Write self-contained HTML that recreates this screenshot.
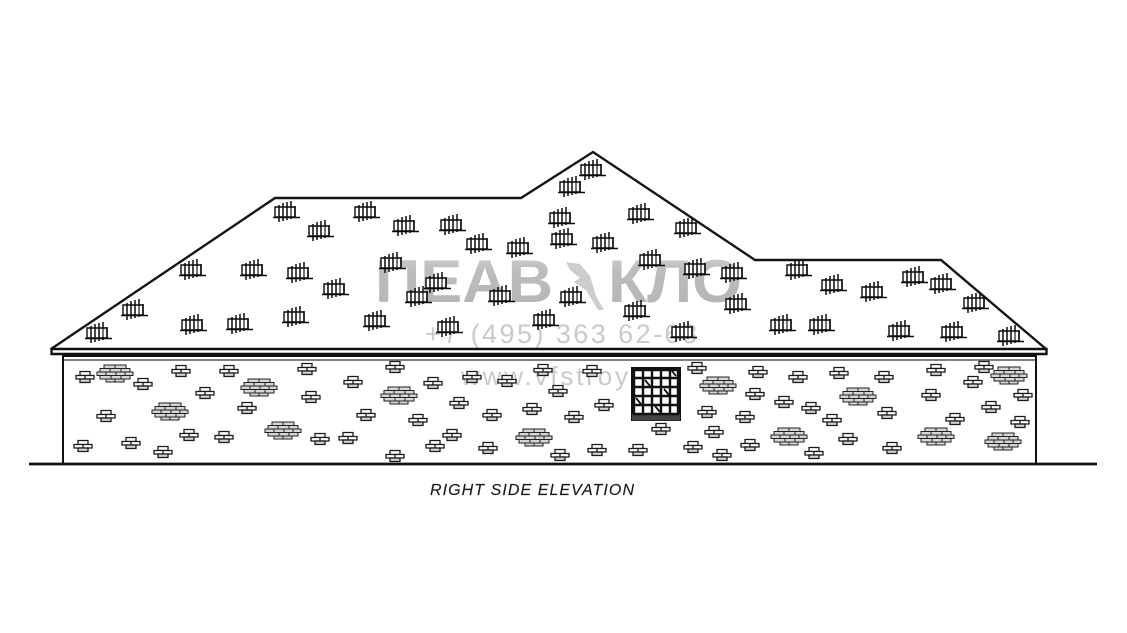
<!DOCTYPE html>
<html><head><meta charset="utf-8"><style>
html,body{margin:0;padding:0;background:#fff;width:1127px;height:633px;overflow:hidden}
svg{display:block;filter:blur(.3px)}
</style></head><body>
<svg xmlns="http://www.w3.org/2000/svg" width="1127" height="633" viewBox="0 0 1127 633">
<defs>
<linearGradient id="wm" x1="0" y1="0" x2="0" y2="1"><stop offset="0" stop-color="#d4d4d4"/><stop offset=".35" stop-color="#bcbcbc"/><stop offset="1" stop-color="#b4b4b4"/></linearGradient>
<g id="s" fill="none" stroke="#0c0c0c" stroke-width="1.400">
<path d="M-11-5H9V5H-11Z" fill="#fff"/>
<path d="M-7-7V7M-3-9V9M1-7V8M5-11V7M9-6V6M-7 5V10M1-10V-5" stroke-width="1.500"/>
<path d="M-13 5.500H14" stroke-width="1.600"/>
<path d="M5-4V4" stroke="#777" stroke-width="2"/>
</g>
<g id="b" stroke="#1a1a1a" stroke-width="1.300" fill="#fff">
<path d="M-5-5.500H5V-1.500H-5Z"/>
<path d="M-9-1.500H9V2H-9Z"/>
<path d="M-5 2H5V5.500H-5Z" fill="#d2d2d2"/>
<path d="M0-1.500V2" fill="none"/>
</g>
<g id="c" stroke="#222" stroke-width="1" fill="#d6d6d6">
<path d="M-11-8H11V-4.500H-11Z"/>
<path d="M-15-4.500H15V-1H-15Z"/>
<path d="M-18-1H18V2.500H-18Z"/>
<path d="M-15 2.500H15V6H-15Z"/>
<path d="M-9 6H9V9H-9Z"/>
<path d="M0-8V-4.500M-5-4.500V-1M6-4.500V-1M-9-1V2.500M1-1V2.500M10-1V2.500M-4 2.500V6M6 2.500V6M0 6V9" fill="none"/>
</g>
</defs>
<rect width="1127" height="633" fill="#fff"/>

<!-- watermark -->
<g fill="url(#wm)" font-family="'Liberation Sans','DejaVu Sans',sans-serif" font-weight="bold">
<text x="375" y="302" font-size="60" textLength="178" lengthAdjust="spacingAndGlyphs">ПЕАВ</text>
<text x="608" y="302" font-size="60" textLength="134" lengthAdjust="spacingAndGlyphs">КЛО</text>
<path d="M566 262l14 2 10 12 6 20 8 14-6 0-12-20-12-8 6-4-10-8z" fill="#cdcdcd"/>
</g>
<g fill="#cacaca" font-family="'Liberation Sans',sans-serif">
<text x="425" y="343" font-size="27" textLength="272" lengthAdjust="spacing">+7 (495) 363 62-68</text>
<text x="461" y="385" font-size="26" textLength="204" lengthAdjust="spacing">www.vfstroy.ru</text>
</g>

<!-- roof -->
<path d="M51 349L275 198H521L593 152L755 260H941L1046 349" fill="none" stroke="#151515" stroke-width="2.400"/>
<path d="M51.500 349H1046.500V354H51.500Z" fill="#fff" stroke="#111" stroke-width="2.400"/>
<path d="M62 355.500H1037" stroke="#111" stroke-width="3"/>
<path d="M62 360H1037" stroke="#555" stroke-width="1.500"/>
<path d="M63 356V464M1036 356V464" stroke="#111" stroke-width="2"/>
<path d="M29 464H1097" stroke="#111" stroke-width="2.800"/>

<!-- shingles -->
<g>
<use href="#s" x="98" y="333"/><use href="#s" x="134" y="310"/><use href="#s" x="192" y="270"/><use href="#s" x="193" y="325"/>
<use href="#s" x="253" y="270"/><use href="#s" x="239" y="324"/><use href="#s" x="299" y="273"/><use href="#s" x="295" y="317"/>
<use href="#s" x="286" y="212"/><use href="#s" x="320" y="231"/><use href="#s" x="335" y="289"/><use href="#s" x="366" y="212"/>
<use href="#s" x="376" y="321"/><use href="#s" x="405" y="226"/><use href="#s" x="452" y="225"/><use href="#s" x="478" y="244"/>
<use href="#s" x="519" y="248"/><use href="#s" x="392" y="263"/><use href="#s" x="437" y="283"/><use href="#s" x="418" y="297"/>
<use href="#s" x="501" y="296"/><use href="#s" x="449" y="327"/><use href="#s" x="545" y="320"/><use href="#s" x="572" y="297"/>
<use href="#s" x="561" y="218"/><use href="#s" x="563" y="239"/><use href="#s" x="604" y="243"/><use href="#s" x="571" y="187"/>
<use href="#s" x="592" y="170"/><use href="#s" x="640" y="214"/><use href="#s" x="687" y="228"/><use href="#s" x="651" y="260"/>
<use href="#s" x="696" y="269"/><use href="#s" x="733" y="273"/><use href="#s" x="737" y="304"/><use href="#s" x="636" y="311"/>
<use href="#s" x="683" y="332"/><use href="#s" x="782" y="325"/><use href="#s" x="821" y="325"/><use href="#s" x="798" y="270"/>
<use href="#s" x="833" y="285"/><use href="#s" x="873" y="292"/><use href="#s" x="914" y="277"/><use href="#s" x="942" y="284"/>
<use href="#s" x="975" y="303"/><use href="#s" x="900" y="331"/><use href="#s" x="953" y="332"/><use href="#s" x="1010" y="336"/>
</g>

<!-- small bricks -->
<g>
<use href="#b" x="85" y="377"/><use href="#b" x="143" y="384"/><use href="#b" x="181" y="371"/><use href="#b" x="229" y="371"/>
<use href="#b" x="307" y="369"/><use href="#b" x="205" y="393"/><use href="#b" x="311" y="397"/><use href="#b" x="353" y="382"/>
<use href="#b" x="106" y="416"/><use href="#b" x="247" y="408"/><use href="#b" x="83" y="446"/><use href="#b" x="131" y="443"/>
<use href="#b" x="163" y="452"/><use href="#b" x="189" y="435"/><use href="#b" x="224" y="437"/><use href="#b" x="320" y="439"/>
<use href="#b" x="348" y="438"/><use href="#b" x="366" y="415"/><use href="#b" x="395" y="367"/><use href="#b" x="433" y="383"/>
<use href="#b" x="472" y="377"/><use href="#b" x="507" y="381"/><use href="#b" x="543" y="370"/><use href="#b" x="592" y="371"/>
<use href="#b" x="697" y="368"/><use href="#b" x="558" y="391"/><use href="#b" x="459" y="403"/><use href="#b" x="532" y="409"/>
<use href="#b" x="604" y="405"/><use href="#b" x="492" y="415"/><use href="#b" x="574" y="417"/><use href="#b" x="418" y="420"/>
<use href="#b" x="661" y="429"/><use href="#b" x="452" y="435"/><use href="#b" x="435" y="446"/><use href="#b" x="488" y="448"/>
<use href="#b" x="597" y="450"/><use href="#b" x="638" y="450"/><use href="#b" x="395" y="456"/><use href="#b" x="560" y="455"/>
<use href="#b" x="758" y="372"/><use href="#b" x="798" y="377"/><use href="#b" x="839" y="373"/><use href="#b" x="884" y="377"/>
<use href="#b" x="936" y="370"/><use href="#b" x="755" y="394"/><use href="#b" x="784" y="402"/><use href="#b" x="811" y="408"/>
<use href="#b" x="832" y="420"/><use href="#b" x="887" y="413"/><use href="#b" x="931" y="395"/><use href="#b" x="707" y="412"/>
<use href="#b" x="745" y="417"/><use href="#b" x="714" y="432"/><use href="#b" x="693" y="447"/><use href="#b" x="722" y="455"/>
<use href="#b" x="750" y="445"/><use href="#b" x="814" y="453"/><use href="#b" x="848" y="439"/><use href="#b" x="892" y="448"/>
<use href="#b" x="984" y="367"/><use href="#b" x="973" y="382"/><use href="#b" x="1023" y="395"/><use href="#b" x="991" y="407"/>
<use href="#b" x="955" y="419"/><use href="#b" x="1020" y="422"/>
</g>

<!-- clusters -->
<g>
<use href="#c" x="115" y="373"/><use href="#c" x="259" y="387"/><use href="#c" x="170" y="411"/><use href="#c" x="283" y="430"/>
<use href="#c" x="399" y="395"/><use href="#c" x="534" y="437"/><use href="#c" x="718" y="385"/><use href="#c" x="858" y="396"/>
<use href="#c" x="789" y="436"/><use href="#c" x="936" y="436"/><use href="#c" x="1009" y="375"/><use href="#c" x="1003" y="441"/>
</g>

<!-- window -->
<g>
<rect x="632" y="368" width="48" height="52" fill="#fff" stroke="#111" stroke-width="2"/>
<rect x="632" y="414" width="48" height="6.500" fill="#444"/>
<path d="M634 370H678V414H634Z" fill="none" stroke="#111" stroke-width="2.400"/>
<path d="M643 369V414M652 369V414M661 369V414M670 369V414M633 378H679M633 387H679M633 396H679M633 405H679" stroke="#111" stroke-width="2.400"/>
<path d="M672 371l4 5M645 380l5 6M664 389l5 6M636 398l5 6M655 406l5 6" stroke="#111" stroke-width="1.800"/>
</g>

<text x="430" y="495" font-family="'Liberation Sans',sans-serif" font-style="italic" font-size="16" fill="#1a1a1a" stroke="#1a1a1a" stroke-width=".15" textLength="204" lengthAdjust="spacing">RIGHT SIDE ELEVATION</text>
</svg>
</body></html>
